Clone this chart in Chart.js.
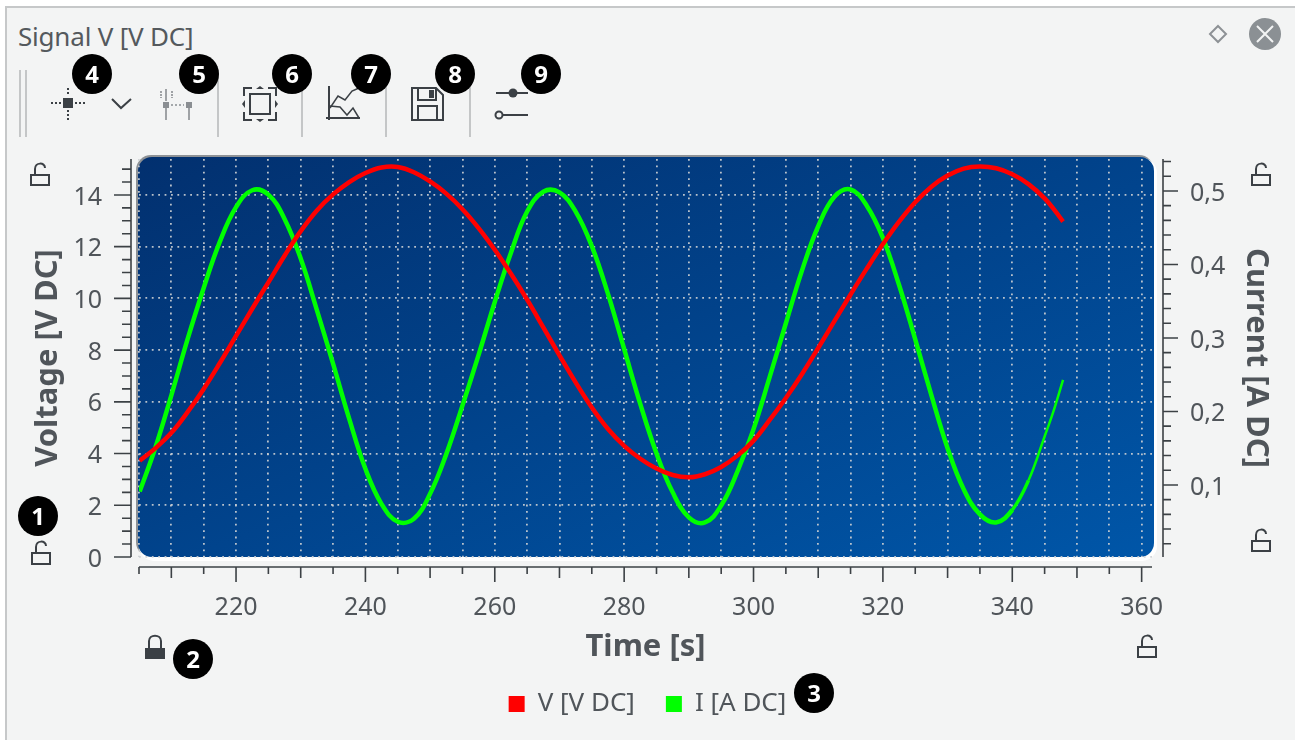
<!doctype html>
<html>

<head>
  <meta charset="UTF-8">
  <title>Signal V [V DC]</title>
  <script src="https://cdn.jsdelivr.net/npm/chart.js"></script>
  <style>
    html, body { margin: 0; padding: 0; background: #fff; overflow: hidden; }
    body { width: 1295px; height: 740px; position: relative; font-family: "Noto Sans", sans-serif; }
    #panel { position: absolute; left: 5px; top: 6px; right: 0; bottom: 0; background: #f3f4f4;
      border-left: 2px solid #c6c8c9; border-top: 2px solid #c6c8c9; }
    #title { position: absolute; left: 18px; top: 20px; font-size: 26px; letter-spacing: -0.2px; color: #54595d; line-height: 32px; }
    canvas { position: absolute; left: 0; top: 0; }
    #icons { position: absolute; left: 0; top: 0; }
    .badge { position: absolute; width: 40px; height: 40px; border-radius: 50%; background: #000; color: #fff;
      font-weight: 700; font-size: 24px; line-height: 40px; text-align: center; }
  </style>
</head>

<body>
  <div id="panel"></div>
  <div id="title">Signal V [V DC]</div>
  <canvas id="signalChart" width="1295" height="740"></canvas>

  <svg id="icons" width="1295" height="740" fill="none" stroke="#3b4045" stroke-width="2">
    <!-- toolbar handle and separators -->
    <g stroke="#c4c6c7">
      <path d="M20 70V137M26 70V137M218 70V137M302 70V137M386 70V137M470 70V137" />
    </g>
    <!-- crosshair -->
    <rect x="63" y="98" width="10" height="10" fill="#3b4045" stroke="none" />
    <path d="M51 103H61M75 103H85M68 88V96M68 110V120" stroke-dasharray="2 2" />
    <path d="M112 99L121 108L131 99" />
    <!-- cursor pair -->
    <g stroke="#8a8e92" stroke-width="1.6">
      <path d="M166 108V120M189 108V120M166 89V101" />
      <path d="M171 105H184" stroke-dasharray="2 2" />
      <path d="M161 91V98M172 91V98" stroke-dasharray="2 1" />
      <rect x="163" y="102" width="6" height="6" fill="#8a8e92" stroke="none" />
      <rect x="186" y="102" width="6" height="6" fill="#8a8e92" stroke="none" />
    </g>
    <!-- zoom fit -->
    <path d="M244 96V88H252M268 88H276V96M244 112V120H252M268 120H276V112" />
    <rect x="250" y="94" width="20" height="20" />
    <path d="M256 89H264L260 86ZM256 119H264L260 122ZM245 100V108L242 104ZM275 100V108L278 104Z" fill="#3b4045" stroke="none" />
    <!-- chart types -->
    <path d="M329 86V120M326 118H360" />
    <path d="M330 108L338 96L345 100L352 91L359 88" stroke-width="1.5" />
    <path d="M330 106L340 107L347 115L353 108L359 118" stroke-width="1.5" />
    <!-- save -->
    <path d="M412 88H436L443 95V120H412Z" />
    <path d="M418 88V100H436V88M418 120V106H437V120" />
    <rect x="429" y="90" width="5" height="8" fill="#3b4045" stroke="none" />
    <!-- options -->
    <path d="M496 93H528M503 115H528" />
    <circle cx="513" cy="93" r="4.5" fill="#3b4045" stroke="none" />
    <circle cx="499" cy="115" r="3.5" />
    <!-- window buttons -->
    <path d="M1218 26L1226 34L1218 42L1210 34Z" stroke="#8d9195" />
    <circle cx="1265" cy="34" r="16" fill="#8b9094" stroke="none" />
    <path d="M1257 26L1273 42M1273 26L1257 42" stroke="#f3f4f4" stroke-width="2" />
    <!-- open locks -->
    <g id="locks" stroke-width="2">
      <path d="M31 175H49V185H31ZM35 175V169C35 162 45 162 45 168" />
      <path d="M32 553H50V564H32ZM36 553V547C36 540 46 540 46 546" />
      <path d="M1252 175H1270V185H1252ZM1256 175V169C1256 162 1266 162 1266 168" />
      <path d="M1252 541H1270V551H1252ZM1256 541V535C1256 528 1266 528 1266 534" />
      <path d="M1138 647H1156V657H1138ZM1142 647V641C1142 634 1152 634 1152 640" />
    </g>
    <!-- closed lock -->
    <rect x="145" y="648" width="20" height="11" fill="#3b4045" stroke="none" />
    <path d="M149 648V641C149 634 161 634 161 641V648" />
  </svg>

  <div class="badge" style="left:18px;top:496px">1</div>
  <div class="badge" style="left:173px;top:639px">2</div>
  <div class="badge" style="left:794px;top:673px">3</div>
  <div class="badge" style="left:72px;top:54px">4</div>
  <div class="badge" style="left:179px;top:54px">5</div>
  <div class="badge" style="left:272px;top:54px">6</div>
  <div class="badge" style="left:351px;top:54px">7</div>
  <div class="badge" style="left:435px;top:54px">8</div>
  <div class="badge" style="left:521px;top:54px">9</div>

  <script>
    // Values
    const timeSeconds = [205.1, 207.5, 210, 212.5, 215, 217.5, 220, 222.5, 225, 227.5, 230, 232.5, 235, 237.5, 240, 242.5,
      245, 247.5, 250, 252.5, 255, 257.5, 260, 262.5, 265, 267.5, 270, 272.5, 275, 277.5, 280, 282.5, 285, 287.5, 290, 292.5,
      295, 297.5, 300, 302.5, 305, 307.5, 310, 312.5, 315, 317.5, 320, 322.5, 325, 327.5, 330, 332.5, 335, 337.5, 340, 342.5,
      345, 346.5, 347.85];
    const voltage = [3.72, 4.2, 4.8, 5.6, 6.5, 7.5, 8.55, 9.6, 10.62, 11.65, 12.6, 13.4, 14.02, 14.5, 14.85, 15.06,
      15.08, 14.88, 14.52, 14.05, 13.45, 12.72, 11.88, 10.95, 9.95, 8.88, 7.8, 6.75, 5.78, 4.95, 4.3, 3.8, 3.42, 3.17, 3.08, 3.2,
      3.48, 3.92, 4.5, 5.3, 6.15, 7.08, 8.08, 9.12, 10.15, 11.15, 12.1, 12.97, 13.72, 14.32, 14.75, 15.02, 15.1, 15.03, 14.8, 14.42,
      13.87, 13.42, 12.97];
    const current = [0.091, 0.15, 0.222, 0.298, 0.368, 0.431, 0.478, 0.501, 0.495, 0.462, 0.408, 0.338, 0.265, 0.19, 0.122, 0.074,
      0.05, 0.054, 0.088, 0.142, 0.208, 0.277, 0.349, 0.416, 0.472, 0.499, 0.498, 0.472, 0.425, 0.36, 0.285, 0.21, 0.143, 0.09, 0.056, 0.049,
      0.072, 0.118, 0.176, 0.247, 0.32, 0.392, 0.452, 0.492, 0.502, 0.48, 0.436, 0.372, 0.298, 0.222, 0.15, 0.094, 0.06, 0.049, 0.066, 0.106,
      0.166, 0.204, 0.243];

    const timeLabels = [220, 240, 260, 280, 300, 320, 340, 360];
    const voltageLabels = [0, 2, 4, 6, 8, 10, 12, 14];
    const currentLabels = [0.1, 0.2, 0.3, 0.4, 0.5];

    const TEXT_COLOR = '#50555a';
    const AXIS_COLOR = '#3c4145';
    const GRID_COLOR = 'rgba(205, 208, 212, 0.9)';

    Chart.defaults.font.family = '"Noto Sans", sans-serif';
    Chart.defaults.color = TEXT_COLOR;

    const isLabelled = (list, v) => list.some(l => Math.abs(l - v) < 1e-6);

    function roundedRect(ctx, x, y, w, h, r, fill) {
      ctx.beginPath();
      ctx.roundRect(x, y, w, h, r);
      ctx.fillStyle = fill;
      ctx.fill();
    }

    // rounded plot panel, sits a bit wider than the scales
    const plotBackground = {
      id: 'plotBackground',
      beforeDraw(chart) {
        const { ctx, chartArea: a } = chart;
        const x = a.left - 1, y = a.top - 2, w = a.width + 3, h = a.height + 2;
        ctx.save();
        roundedRect(ctx, x - 2, y - 2, w + 2, h + 2, 15, '#8e9296');
        roundedRect(ctx, x + 1, y + 1, w + 2, h + 3, 15, '#ffffff');
        // corner to corner, so the other two corners get the same mid colour
        const norm = w * w + h * h;
        const dx = w * h * h / norm, dy = w * w * h / norm;
        const cx = x + w / 2, cy = y + h / 2;
        const g = ctx.createLinearGradient(cx - dx, cy - dy, cx + dx, cy + dy);
        g.addColorStop(0, '#02306f');
        g.addColorStop(1, '#0056a8');
        roundedRect(ctx, x, y, w, h, 14, g);
        ctx.restore();
      }
    };

    // axis lines and ticks stand off from the plot, so they are drawn from the scales here
    const axisMarks = {
      id: 'axisMarks',
      afterDraw(chart) {
        const { ctx, chartArea: a, scales } = chart;
        ctx.save();
        ctx.strokeStyle = AXIS_COLOR;
        ctx.lineWidth = 1.6;
        ctx.beginPath();
        const xLine = 567, leftLine = 131, rightLine = 1163;
        ctx.moveTo(a.left, xLine); ctx.lineTo(a.right, xLine);
        ctx.moveTo(leftLine, a.top); ctx.lineTo(leftLine, a.bottom);
        ctx.moveTo(rightLine, a.top); ctx.lineTo(rightLine, a.bottom);
        scales.x.ticks.forEach(t => {
          const px = scales.x.getPixelForValue(t.value);
          const len = t.value % 20 === 0 ? 15 : t.value % 10 === 0 ? 11 : 7;
          ctx.moveTo(px, xLine); ctx.lineTo(px, xLine + len);
        });
        scales.yV.ticks.forEach(t => {
          const py = scales.yV.getPixelForValue(t.value);
          ctx.moveTo(leftLine, py); ctx.lineTo(leftLine - (isLabelled(voltageLabels, t.value) ? 17 : 9), py);
        });
        scales.yI.ticks.forEach(t => {
          const py = scales.yI.getPixelForValue(t.value);
          ctx.moveTo(rightLine, py); ctx.lineTo(rightLine + (isLabelled(currentLabels, t.value) ? 15 : 8), py);
        });
        ctx.stroke();
        ctx.restore();
      }
    };

    const toPoints = values => values.map((v, i) => ({ x: timeSeconds[i], y: v }));
    const gridLine = { color: GRID_COLOR, lineWidth: 1.8, drawTicks: false };
    const gridBorder = { display: false, dash: [1.8, 4.6] };
    const titleFont = { size: 31, weight: '700' };
    const tickFont = { size: 25 };
    // y labels sit a little under their tick: empty first line with a small line height pushes them down
    const yTickFont = { size: 25, lineHeight: '5px' };

    const chart = new Chart(document.getElementById('signalChart'), {
      type: 'line',
      data: {
        datasets: [{
          label: 'V [V DC]',
          data: toPoints(voltage),
          yAxisID: 'yV',
          borderColor: '#ff0000',
          backgroundColor: '#ff0000',
          borderWidth: 4.5,
          tension: 0.4,
          pointRadius: 0
        }, {
          label: 'I [A DC]',
          data: toPoints(current),
          yAxisID: 'yI',
          borderColor: '#00ff00',
          backgroundColor: '#00ff00',
          borderWidth: 4.5,
          tension: 0.4,
          pointRadius: 0,
          // the newest samples get thinner
          segment: { borderWidth: c => c.p0.parsed.x > 341 ? 2.5 : c.p0.parsed.x > 338 ? 3.5 : 4.5 }
        }]
      },
      options: {
        responsive: false,
        animation: false,
        layout: { padding: { top: 159, bottom: 13, left: 0, right: 0 } },
        plugins: {
          tooltip: { enabled: false },
          legend: {
            position: 'bottom',
            labels: {
              boxWidth: 16,
              boxHeight: 16,
              padding: 31,
              font: { size: 26 },
              color: TEXT_COLOR,
              generateLabels: c => c.data.datasets.map((d, i) => ({
                text: d.label, fillStyle: d.backgroundColor, strokeStyle: d.backgroundColor,
                lineWidth: 0, datasetIndex: i, fontColor: TEXT_COLOR
              }))
            }
          }
        },
        scales: {
          x: {
            type: 'linear',
            min: 205,
            max: 361.6,
            afterFit: s => { s.height = 103; },
            grid: gridLine,
            border: gridBorder,
            title: { display: true, text: 'Time [s]', font: titleFont, color: TEXT_COLOR, padding: { top: 0, bottom: -6 } },
            ticks: {
              stepSize: 5,
              includeBounds: false,
              autoSkip: false,
              maxRotation: 0,
              padding: 36,
              font: tickFont,
              callback: v => isLabelled(timeLabels, v) ? String(v) : ''
            }
          },
          yV: {
            position: 'left',
            min: 0,
            max: 15.39,
            afterFit: s => { s.width = 139; },
            grid: { ...gridLine, color: c => isLabelled(voltageLabels, c.tick.value) ? GRID_COLOR : 'transparent' },
            border: gridBorder,
            title: { display: true, text: 'Voltage [V DC]', font: titleFont, color: TEXT_COLOR, padding: { top: 30, bottom: 0 } },
            ticks: {
              stepSize: 0.5,
              includeBounds: false,
              autoSkip: false,
              padding: 37,
              font: yTickFont,
              callback: v => isLabelled(voltageLabels, v) ? ['', String(Math.round(v))] : ''
            }
          },
          yI: {
            position: 'right',
            min: 0.002,
            max: 0.5435,
            afterFit: s => { s.width = 143; },
            grid: { display: false },
            border: { display: false },
            title: { display: true, text: 'Current [A DC]', font: titleFont, color: TEXT_COLOR, padding: { top: 21, bottom: 0 } },
            ticks: {
              stepSize: 0.02,
              includeBounds: false,
              autoSkip: false,
              padding: 30,
              font: yTickFont,
              callback: v => isLabelled(currentLabels, v) ? ['', v.toFixed(1).replace('.', ',')] : ''
            }
          }
        }
      },
      plugins: [plotBackground, axisMarks]
    });
  </script>
</body>

</html>
